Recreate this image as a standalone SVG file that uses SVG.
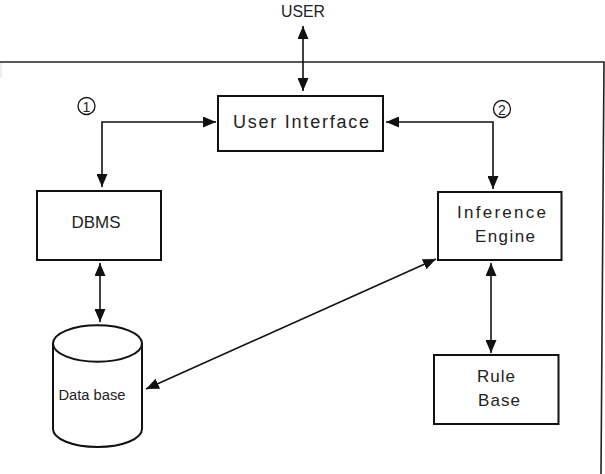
<svg xmlns="http://www.w3.org/2000/svg" width="605" height="474" viewBox="0 0 605 474">
<style>
.box{fill:#fff;stroke:#111;stroke-width:2}
.ln{fill:none;stroke:#111;stroke-width:1.6;marker-start:url(#ah);marker-end:url(#ah)}
.t{font-family:"Liberation Sans",Arial,sans-serif;fill:#222;text-anchor:middle}
.frame{fill:none;stroke:#222;stroke-width:1.6}
</style>
<defs>
<marker id="ah" viewBox="0 0 13 11" refX="13" refY="5.5" markerWidth="13" markerHeight="11" markerUnits="userSpaceOnUse" orient="auto-start-reverse">
<path d="M0,0 L13,5.5 L0,11 z" fill="#111"/>
</marker>
</defs>
<path class="frame" d="M0,62 L604,62 L601,474"/>
<path d="M1,63 L1,78" stroke="#ddd" stroke-width="1" fill="none"/>
<text class="t" x="303" y="17" font-size="16" textLength="44" lengthAdjust="spacingAndGlyphs">USER</text>

<g id="connectors">
<line class="ln" x1="303" y1="26" x2="303" y2="91"/>
<polyline class="ln" points="102,187 102,122 216,122"/>
<polyline class="ln" points="386,122 493,122 493,189"/>
<line class="ln" x1="100" y1="263" x2="100" y2="322"/>
<line class="ln" x1="491" y1="263" x2="491" y2="353"/>
<line class="ln" x1="436" y1="259" x2="146" y2="389"/>
</g>

<g id="label1">
<circle cx="86.5" cy="106" r="8.5" fill="none" stroke="#111" stroke-width="1.3"/>
<text class="t" x="86.5" y="111.5" font-size="14">1</text>
</g>
<g id="label2">
<circle cx="502" cy="109" r="8.5" fill="none" stroke="#111" stroke-width="1.3"/>
<text class="t" x="502" y="114.5" font-size="14">2</text>
</g>

<g id="user-interface">
<rect class="box" x="218" y="96" width="165" height="55"/>
<text class="t" x="301" y="128" font-size="18" textLength="136" lengthAdjust="spacing">User  Interface</text>
</g>

<g id="dbms">
<rect class="box" x="37" y="191" width="124" height="69"/>
<text class="t" x="96" y="228" font-size="17" textLength="49" lengthAdjust="spacingAndGlyphs">DBMS</text>
</g>

<g id="inference-engine">
<rect class="box" x="438" y="192" width="123.5" height="68"/>
<text class="t" x="501.5" y="218" font-size="17" textLength="89" lengthAdjust="spacing">Inference</text>
<text class="t" x="505" y="242" font-size="17" textLength="60" lengthAdjust="spacing">Engine</text>
</g>

<g id="rule-base">
<rect class="box" x="434" y="355" width="124.5" height="69"/>
<text class="t" x="496" y="382" font-size="17" textLength="38" lengthAdjust="spacing">Rule</text>
<text class="t" x="499" y="406" font-size="17" textLength="42" lengthAdjust="spacing">Base</text>
</g>

<g id="database">
<path d="M53,343.5 L53,429 A44.5,18 0 0 0 142,429 L142,343.5" fill="#fff" stroke="#111" stroke-width="2"/>
<ellipse cx="97.5" cy="343.5" rx="44.5" ry="18.3" fill="#fff" stroke="#111" stroke-width="2"/>
<text class="t" x="92" y="400" font-size="15.5" textLength="67" lengthAdjust="spacingAndGlyphs">Data base</text>
</g>
</svg>
